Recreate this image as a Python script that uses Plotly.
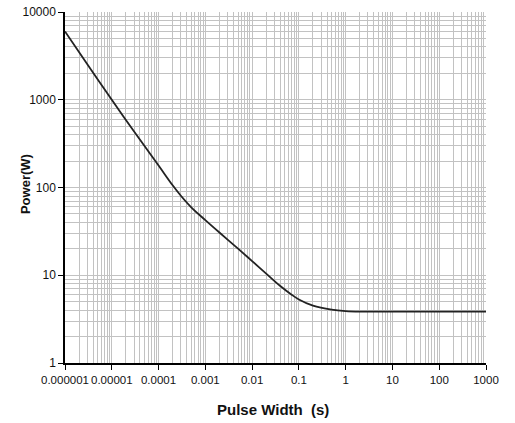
import plotly.graph_objects as go

# Pulse width (s) vs. allowable power (W)
pulse_width = [1e-6, 3e-6, 1e-5, 3e-5, 1e-4, 2e-4, 3e-4, 5e-4, 1e-3, 2e-3,
               5e-3, 1e-2, 2e-2, 4e-2, 7e-2, 1e-1, 2e-1, 5e-1, 1.0, 2.0,
               10.0, 100.0, 1000.0]
power = [6000, 2540, 1000, 434, 178, 106, 80.6, 59.5, 42.5, 30.7,
         20.1, 14.5, 10.45, 7.53, 6.0, 5.3, 4.5, 4.05, 3.9, 3.85,
         3.85, 3.85, 3.85]

x_tick_vals = [1e-6, 1e-5, 1e-4, 1e-3, 1e-2, 1e-1, 1, 10, 100, 1000]
x_tick_text = ["0.000001", "0.00001", "0.0001", "0.001", "0.01", "0.1",
               "1", "10", "100", "1000"]
y_tick_vals = [1, 10, 100, 1000, 10000]
y_tick_text = ["1", "10", "100", "1000", "10000"]

FONT = "Liberation Sans Narrow, Arial Narrow, Liberation Sans, Arial, sans-serif"
GRID = "#c2c2c2"
INK = "#111111"

fig = go.Figure()
fig.add_trace(go.Scatter(
    x=pulse_width, y=power, mode="lines",
    line=dict(color="#222222", width=1.8, shape="spline", smoothing=1.0),
    showlegend=False, hoverinfo="skip",
))

axis_common = dict(
    type="log",
    automargin=False,
    showgrid=True, gridcolor=GRID, gridwidth=1,
    showline=True, linecolor="black", linewidth=1.5,
    ticks="outside", ticklen=5, tickcolor="black", tickwidth=1,
    tickmode="array", tickangle=0,
    minor=dict(dtick="D1", showgrid=True, gridcolor=GRID, gridwidth=1, ticks=""),
    zeroline=False,
)

fig.update_xaxes(
    **axis_common,
    range=[-6, 3],
    tickvals=x_tick_vals, ticktext=x_tick_text,
    tickfont=dict(family=FONT, size=11.5, color=INK),
)
fig.update_yaxes(
    **axis_common,
    range=[0, 4],
    tickvals=y_tick_vals, ticktext=y_tick_text,
    tickfont=dict(family=FONT, size=12, color=INK),
)

# Axis titles
fig.add_annotation(
    text="Pulse Width\u00a0 (s)", xref="paper", yref="paper",
    x=0.493, y=-0.133, xanchor="center", yanchor="middle", showarrow=False,
    font=dict(family=FONT, size=15, color=INK, weight="bold"),
)
fig.add_annotation(
    text="Power(W)", xref="paper", yref="paper", textangle=-90,
    x=-0.094, y=0.511, xanchor="center", yanchor="middle", showarrow=False,
    font=dict(family=FONT, size=13, color=INK, weight="bold"),
)

fig.update_layout(
    width=515, height=423,
    margin=dict(l=65, r=29, t=12, b=60),
    paper_bgcolor="white", plot_bgcolor="white",
)

fig.write_html("out.html")
